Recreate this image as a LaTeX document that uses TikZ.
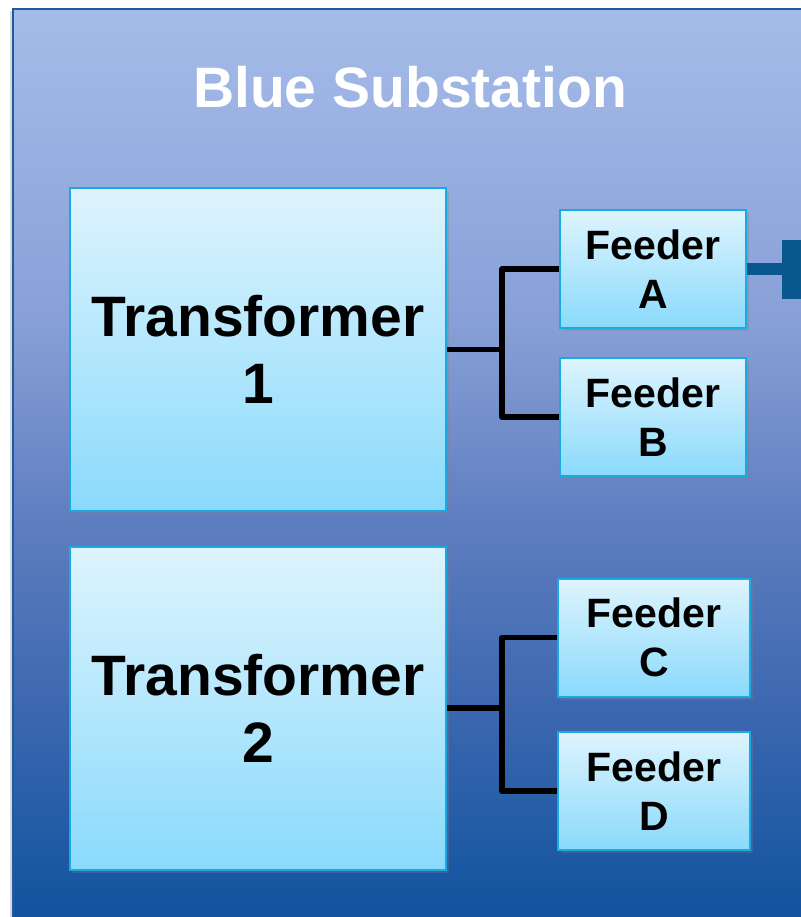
\documentclass[tikz,border=0pt]{standalone}
\usepackage{fontspec}
\setmainfont{Liberation Sans}
\usetikzlibrary{positioning,shadows}
\definecolor{rim}{RGB}{30,92,158}
\definecolor{skytop}{RGB}{222,244,253}
\definecolor{skybot}{RGB}{138,218,252}
\definecolor{skyedge}{RGB}{28,168,226}
\definecolor{linkblue}{RGB}{10,86,143}
\pgfdeclareverticalshading{substation}{100bp}{%
  rgb(0bp)=(0.047,0.314,0.608);
  rgb(25bp)=(0.047,0.314,0.608);
  rgb(27.15bp)=(0.078,0.333,0.627);
  rgb(36.8bp)=(0.227,0.4,0.686);
  rgb(46.75bp)=(0.361,0.486,0.745);
  rgb(58.3bp)=(0.533,0.627,0.843);
  rgb(75bp)=(0.647,0.737,0.914);
  rgb(100bp)=(0.647,0.737,0.914)}

\begin{document}
\begin{tikzpicture}[x=0.5pt, y=-0.5pt]
\tikzstyle{box}=[rectangle, draw=skyedge, line width=1pt,
                 top color=skytop, bottom color=skybot, align=center,
                 inner sep=0pt,
                 drop shadow={opacity=0.3, shadow xshift=1.5pt, shadow yshift=-1.5pt}]
\tikzstyle{trafo}=[box, minimum width=188pt, minimum height=161.5pt,
                   font=\bfseries\fontsize{28.5}{33.5}\selectfont]
\tikzstyle{feeder}=[box, minimum height=59pt,
                    font=\bfseries\fontsize{20.5}{24.5}\selectfont]
\tikzstyle{wire}=[line width=2.6pt, line join=round]
\useasboundingbox (0,0) rectangle (800,917);
% substation frame
\fill[black, opacity=0.15] (10,11) rectangle (830,940);
\draw[rim, line width=1pt, shading=substation] (13,9) rectangle (830,940);
\node[text=white, font=\bfseries\fontsize{28.5}{34}\selectfont] (title) at (410,87) {Blue Substation};
% transformers
\node[trafo] (t1) at (258,349.5) {Transformer\\1};
\node[trafo] (t2) at (258,708) {Transformer\\2};
% feeders
\node[feeder, minimum width=93pt] (fa) at (653,269) {Feeder\\A};
\node[feeder, minimum width=93pt] (fb) at (653,417) {Feeder\\B};
\node[feeder, minimum width=96pt] (fc) at (654,637.5) {Feeder\\C};
\node[feeder, minimum width=96pt] (fd) at (654,791) {Feeder\\D};
% buses
\coordinate (j1) at (502,349.5);
\coordinate (j2) at (502,708);
\draw[wire] (t1.east) -- (j1);
\draw[wire] (fa.west) -| (j1) |- (fb.west);
\draw[wire] (t2.east) -- (j2);
\draw[wire] (fc.west) -| (j2) |- (fd.west);
% outgoing link
\node[rectangle, fill=linkblue, inner sep=0pt, anchor=west,
      minimum width=30pt, minimum height=29.5pt] (bar) at (782,269) {};
\draw[linkblue, line width=6pt] (fa.east) -- (bar.west);
\end{tikzpicture}
\end{document}
